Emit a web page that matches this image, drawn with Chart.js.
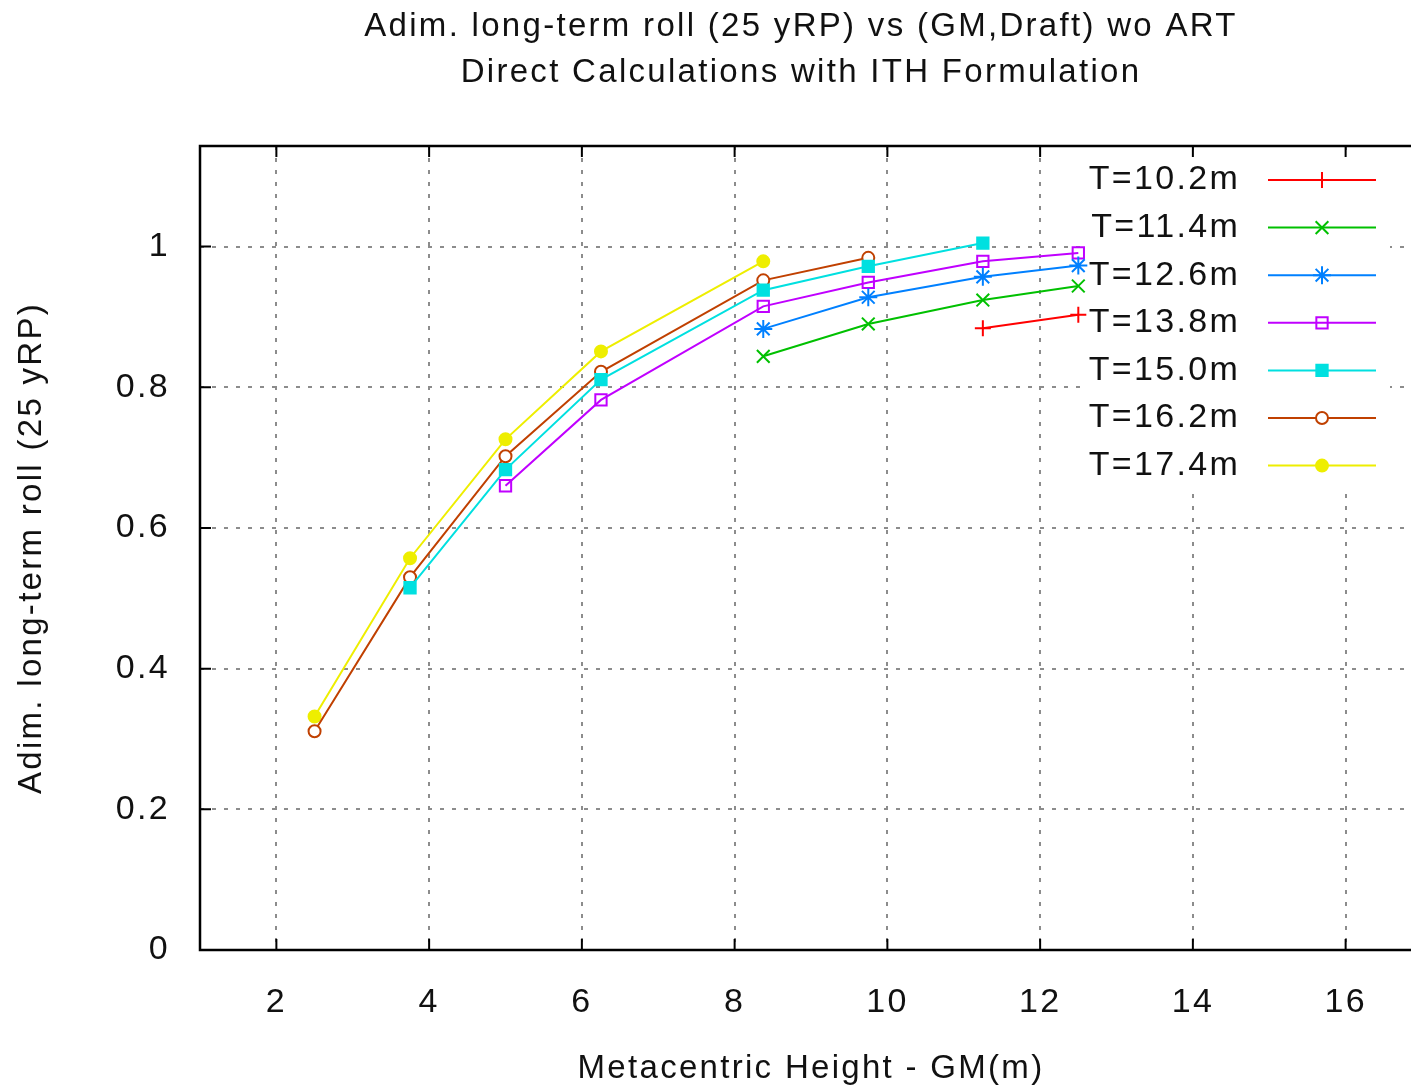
<!DOCTYPE html>
<html>
<head>
<meta charset="utf-8">
<script src="https://cdn.jsdelivr.net/npm/chart.js@4/dist/chart.umd.min.js"></script>
<style>
    html, body { margin: 0; padding: 0; background: #fff; overflow: hidden; }
    #wrap { width: 1411px; height: 1090px; overflow: hidden; }
</style>
</head>
<body>
<div id="wrap">
    <canvas id="rollChart" width="1600" height="1090"></canvas>
</div>
<script>
const gmValues = [2.5, 3.75, 5.0, 6.25, 8.375, 9.75, 11.25, 12.5];

const draft102 = [null, null, null, null, null, null, 0.884, 0.903];
const draft114 = [null, null, null, null, 0.844, 0.890, 0.924, 0.944];
const draft126 = [null, null, null, null, 0.883, 0.928, 0.957, 0.973];
const draft138 = [null, null, 0.660, 0.782, 0.915, 0.949, 0.979, 0.991];
const draft150 = [null, 0.515, 0.683, 0.811, 0.938, 0.972, 1.005, null];
const draft162 = [0.311, 0.530, 0.702, 0.822, 0.952, 0.984, null, null];
const draft174 = [0.332, 0.557, 0.726, 0.851, 0.979, null, null, null];

const seriesLabels = ['T=10.2m', 'T=11.4m', 'T=12.6m', 'T=13.8m', 'T=15.0m', 'T=16.2m', 'T=17.4m'];

const xTicks = [2, 4, 6, 8, 10, 12, 14, 16];
const yTicks = [0, 0.2, 0.4, 0.6, 0.8, 1];

const titleLines = [
    'Adim. long-term roll (25 yRP) vs (GM,Draft) wo ART',
    'Direct Calculations with ITH Formulation',
];

const FONT = '"Liberation Sans", Arial, sans-serif';
const SPACING = '2.3px';

const styles = [
    { color: '#ff0000', point: 'cross', fill: 'rgba(0,0,0,0)', r: 8 },
    { color: '#00c000', point: 'crossRot', fill: 'rgba(0,0,0,0)', r: 9 },
    { color: '#0080ff', point: 'star', fill: '#0080ff', r: 9 },
    { color: '#c000ff', point: 'rect', fill: 'rgba(0,0,0,0)', r: 8 },
    { color: '#00e0e0', point: 'rect', fill: '#00e0e0', r: 8 },
    { color: '#c04000', point: 'circle', fill: '#ffffff', r: 6 },
    { color: '#eeee00', point: 'circle', fill: '#eeee00', r: 6 },
];

const allSeries = [draft102, draft114, draft126, draft138, draft150, draft162, draft174];

const toPoints = values => values
    .map((y, i) => ({ x: gmValues[i], y }))
    .filter(p => p.y !== null);

const datasets = allSeries.map((values, i) => ({
    label: seriesLabels[i],
    data: toPoints(values),
    borderColor: styles[i].color,
    backgroundColor: styles[i].fill,
    borderWidth: 2,
    pointStyle: styles[i].point,
    pointRadius: styles[i].r,
    pointBorderWidth: 2,
    pointBackgroundColor: styles[i].fill,
    pointBorderColor: styles[i].color,
    tension: 0,
    fill: false,
}));

// gnuplot style frame with inward ticks, title and key
const framePlugin = {
    id: 'frame',
    beforeDraw(chart) {
        chart.ctx.letterSpacing = SPACING;
    },
    beforeDatasetsDraw(chart) {
        const { ctx, chartArea } = chart;
        // opaque key box
        ctx.save();
        ctx.fillStyle = '#ffffff';
        ctx.fillRect(chartArea.left + 888, chartArea.top + 6, 302, 340);
        ctx.restore();
    },
    afterDatasetsDraw(chart) {
        const { ctx, chartArea, scales } = chart;
        const { left, right, top, bottom } = chartArea;
        ctx.save();
        ctx.strokeStyle = '#000';
        ctx.lineWidth = 2.5;
        ctx.beginPath();
        ctx.moveTo(right, top);
        ctx.lineTo(left, top);
        ctx.lineTo(left, bottom);
        ctx.lineTo(right, bottom);
        ctx.stroke();

        ctx.lineWidth = 2;
        const tl = 11;
        ctx.beginPath();
        xTicks.forEach(v => {
            const px = scales.x.getPixelForValue(v);
            ctx.moveTo(px, bottom);
            ctx.lineTo(px, bottom - tl);
            ctx.moveTo(px, top);
            ctx.lineTo(px, top + tl);
        });
        yTicks.forEach(v => {
            const py = scales.y.getPixelForValue(v);
            ctx.moveTo(left, py);
            ctx.lineTo(left + tl, py);
        });
        ctx.stroke();

        // title
        ctx.letterSpacing = SPACING;
        ctx.fillStyle = '#111';
        ctx.font = '33px ' + FONT;
        ctx.textAlign = 'center';
        ctx.textBaseline = 'middle';
        const cx = (left + right) / 2 - 10;
        ctx.fillText(titleLines[0], cx, 27);
        ctx.fillText(titleLines[1], cx, 73);

        // key
        ctx.font = '34px ' + FONT;
        ctx.textAlign = 'right';
        chart.data.datasets.forEach((ds, i) => {
            const y = top + 34 + i * 47.6;
            ctx.fillStyle = '#111';
            ctx.fillText(ds.label, left + 1040, y);
            ctx.strokeStyle = ds.borderColor;
            ctx.lineWidth = 2;
            ctx.beginPath();
            ctx.moveTo(left + 1068, y);
            ctx.lineTo(left + 1176, y);
            ctx.stroke();
            ctx.fillStyle = ds.pointBackgroundColor;
            Chart.helpers.drawPoint(ctx, {
                pointStyle: ds.pointStyle,
                radius: ds.pointRadius,
                borderWidth: 2,
                rotation: 0,
            }, left + 1122, y);
        });
        ctx.restore();
    },
};

new Chart(document.getElementById('rollChart'), {
    type: 'line',
    data: { datasets },
    options: {
        responsive: false,
        animation: false,
        layout: { padding: { top: 146, right: 178, left: 0, bottom: 0 } },
        plugins: {
            legend: { display: false },
            title: { display: false },
            tooltip: { enabled: false },
        },
        scales: {
            x: {
                type: 'linear',
                min: 1,
                max: 17,
                afterBuildTicks: scale => {
                    scale.ticks = xTicks.map(value => ({ value }));
                },
                afterFit: scale => {
                    scale.height = 140;
                },
                grid: {
                    color: '#8c8c8c',
                    lineWidth: 2,
                    drawTicks: false,
                },
                border: { display: false, dash: [4, 8] },
                ticks: {
                    padding: 32,
                    color: '#111',
                    font: { family: FONT, size: 34 },
                    maxRotation: 0,
                    callback: value => String(value),
                },
                title: {
                    display: true,
                    text: 'Metacentric Height - GM(m)',
                    color: '#111',
                    font: { family: FONT, size: 33 },
                    padding: { top: 0, bottom: 1 },
                },
            },
            y: {
                type: 'linear',
                min: 0,
                max: 1.143,
                afterBuildTicks: scale => {
                    scale.ticks = yTicks.map(value => ({ value }));
                },
                afterFit: scale => {
                    scale.width = 200;
                },
                grid: {
                    color: '#8c8c8c',
                    lineWidth: 2,
                    drawTicks: false,
                },
                border: { display: false, dash: [4, 8] },
                ticks: {
                    padding: 30,
                    color: '#111',
                    font: { family: FONT, size: 34 },
                    callback: value => String(value),
                },
                title: {
                    display: true,
                    text: 'Adim. long-term roll (25 yRP)',
                    color: '#111',
                    font: { family: FONT, size: 33 },
                    padding: { top: 12, bottom: 0 },
                },
            },
        },
    },
    plugins: [framePlugin],
});
</script>
</body>
</html>
